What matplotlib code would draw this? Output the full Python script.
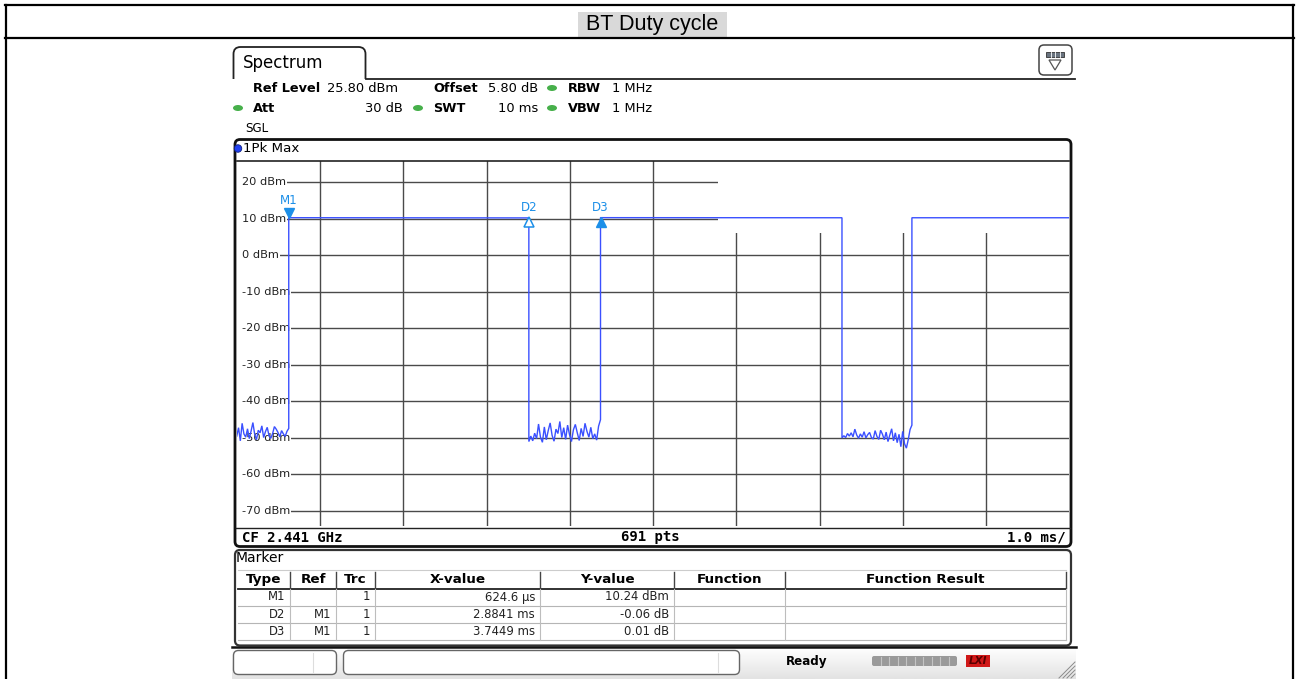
import numpy as np
import matplotlib
matplotlib.use('Agg')
import matplotlib.pyplot as plt
from matplotlib.patches import FancyBboxPatch, Rectangle, Ellipse, Polygon
from matplotlib.transforms import offset_copy

W, H = 1298, 679

# ---------------- data ----------------
title = 'BT Duty cycle'
ref_level = 25.80          # dBm (top of grid)
y_span = 100.0             # dB over the grid
sweep_ms = 10.0            # 1.0 ms/div
y_ticks = [20, 10, 0, -10, -20, -30, -40, -50, -60, -70]
y_tick_labels = ['20 dBm', '10 dBm', '0 dBm', '-10 dBm', '-20 dBm', '-30 dBm',
                 '-40 dBm', '-50 dBm', '-60 dBm', '-70 dBm']
x_ticks = [1, 2, 3, 4, 5, 6, 7, 8, 9]

# switching instants of the burst trace (ms)
edges_ms = [0.0, 0.6246, 3.5087, 4.3695, 7.27, 8.11, 10.0]
# burst (on) levels, start/end of each on-segment (dBm)
high_1 = [10.24, 10.18]
high_2 = [10.25, 10.22]
high_3 = [10.22, 10.22]
# noise floor readings of the three off-segments (dBm)
noise_1 = [-49.5, -47.2, -50.8, -46.0, -48.9, -49.8, -47.5, -50.2, -48.1, -45.8,
           -49.0, -50.5, -47.9, -48.6, -46.7, -49.9, -48.3, -47.1, -49.4, -50.1,
           -48.8, -46.9, -47.6, -48.5, -49.7, -48.0, -48.9, -49.6, -48.2, -47.4]
noise_2 = [-51.0, -49.5, -50.8, -48.7, -50.2, -46.2, -49.8, -51.2, -47.0, -50.5,
           -48.0, -45.9, -49.3, -50.9, -47.6, -48.8, -45.5, -49.9, -47.2, -50.4,
           -46.5, -49.1, -51.0, -47.8, -46.3, -48.6, -50.7, -47.4, -49.6, -46.0,
           -48.2, -49.8, -47.1, -50.2, -48.9, -50.6, -46.8, -45.0]
noise_3 = [-50.0, -49.4, -49.9, -48.8, -49.5, -48.6, -49.7, -47.6, -49.2, -50.1,
           -48.9, -49.8, -48.3, -50.0, -49.1, -48.5, -49.9, -50.3, -48.0, -49.6,
           -50.4, -47.9, -49.0, -50.5, -48.4, -51.0, -49.2, -47.5, -50.8, -48.6,
           -51.3, -49.0, -52.4, -48.2, -51.6, -52.8, -50.5, -47.7, -46.5]

# markers
marker_names = ['M1', 'D2', 'D3']
marker_x_ms = [0.6246, 0.6246 + 2.8841, 0.6246 + 3.7449]
marker_y_dbm = [10.24, 10.18, 10.25]

# marker info box (top right of the grid)
info_rows = [('D3[1]', '0.01 dB', '3.7449 ms'), ('M1[1]', '10.24 dBm', '624.6 µs')]

# marker table
table_headers = ['Type', 'Ref', 'Trc', 'X-value', 'Y-value', 'Function', 'Function Result']
table_type = ['M1', 'D2', 'D3']
table_ref = ['', 'M1', 'M1']
table_trc = ['1', '1', '1']
table_x = ['624.6 µs', '2.8841 ms', '3.7449 ms']
table_y = ['10.24 dBm', '-0.06 dB', '0.01 dB']

# instrument settings
row1 = [('Ref Level', '25.80 dBm'), ('Offset', '5.80 dB'), ('RBW', '1 MHz')]
row2 = [('Att', '30 dB'), ('SWT', '10 ms'), ('VBW', '1 MHz')]
cf_text, pts_text, div_text = 'CF 2.441 GHz', '691 pts', '1.0 ms/'

# ---------------- figure ----------------
fig = plt.figure(figsize=(W / 100, H / 100), dpi=100)
fig.patch.set_facecolor('white')
bg = fig.add_axes([0, 0, 1, 1])
bg.set_xlim(0, W)
bg.set_ylim(H, 0)
bg.axis('off')

SANS = 'DejaVu Sans'
MONO = 'DejaVu Sans Mono'
BLUE_TXT = '#1f95e6'

# outer document table
bg.plot([5, 1294], [5, 5], color='black', lw=1.6)
bg.plot([5, 1294], [38, 38], color='black', lw=1.6)
bg.plot([6, 6], [5, H], color='black', lw=1.6)
bg.plot([1293, 1293], [5, H], color='black', lw=1.6)
bg.add_patch(Rectangle((578, 12), 149, 25, fc='#d9d9d9', ec='none'))
bg.text(652, 24.5, title, ha='center', va='center', fontsize=15.5,
        family='Liberation Sans', color='black')

# tab "Spectrum"
bg.add_patch(FancyBboxPatch((233.5, 47), 132, 40, boxstyle='round,pad=0,rounding_size=7',
                            fc='white', ec='#222222', lw=1.3, zorder=2))
bg.add_patch(Rectangle((232, 79), 136, 12, fc='white', ec='none', zorder=3))
bg.plot([365.5, 1075], [78.5, 78.5], color='#222222', lw=1.3, zorder=3)
bg.text(243, 63, 'Spectrum', ha='left', va='center', fontsize=12, family=SANS, zorder=4)

# icon top right
bg.add_patch(FancyBboxPatch((1039, 45), 33, 30, boxstyle='round,pad=0,rounding_size=5',
                            fc='white', ec='#444444', lw=1.1))
bg.add_patch(Rectangle((1046, 52), 18, 5, fc='#6a7480', ec='#333333', lw=0.6))
for xx in [1050.5, 1055, 1059.5]:
    bg.plot([xx, xx], [52, 57], color='white', lw=0.6)
bg.add_patch(Polygon([[1049, 60], [1061, 60], [1055, 70]], closed=True, fc='white',
                     ec='#555555', lw=0.9))

# settings rows
GREEN = '#47b04b'
def gdot(x, y):
    bg.add_patch(Ellipse((x, y), 10, 6, fc=GREEN, ec='none'))

fs_b = 9.3
fs_r = 9.4
bg.text(253, 88, row1[0][0], fontsize=fs_b, fontweight='bold', va='center', family=SANS)
bg.text(327, 88, row1[0][1], fontsize=fs_r, va='center', family=SANS)
bg.text(433, 88, row1[1][0], fontsize=fs_b, fontweight='bold', va='center', family=SANS)
bg.text(488, 88, row1[1][1], fontsize=fs_r, va='center', family=SANS)
gdot(552, 88)
bg.text(568, 88, row1[2][0], fontsize=fs_b, fontweight='bold', va='center', family=SANS)
bg.text(612, 88, row1[2][1], fontsize=fs_r, va='center', family=SANS)

gdot(238, 108)
bg.text(253, 108, row2[0][0], fontsize=fs_b, fontweight='bold', va='center', family=SANS)
bg.text(403, 108, row2[0][1], fontsize=fs_r, va='center', ha='right', family=SANS)
gdot(418, 108)
bg.text(433, 108, row2[1][0], fontsize=fs_b, fontweight='bold', va='center', family=SANS)
bg.text(538, 108, row2[1][1], fontsize=fs_r, va='center', ha='right', family=SANS)
gdot(552, 108)
bg.text(568, 108, row2[2][0], fontsize=fs_b, fontweight='bold', va='center', family=SANS)
bg.text(612, 108, row2[2][1], fontsize=fs_r, va='center', family=SANS)
bg.text(245, 128, 'SGL', fontsize=8.6, va='center', family=SANS)

# trace window frame
bg.add_patch(FancyBboxPatch((235, 139.5), 836, 407, boxstyle='round,pad=0,rounding_size=5',
                            fc='white', ec='#111111', lw=2.0, zorder=1))
bg.add_patch(Ellipse((238, 148.5), 7.5, 7.5, fc='#2040f0', ec='#102080', lw=0.6, zorder=2))
bg.text(243, 148.5, '1Pk Max', fontsize=9.6, va='center', family=SANS, zorder=2)
bg.plot([236, 1070], [527.5, 527.5], color='#222222', lw=1.0, zorder=2)
bg.text(242, 537.5, cf_text, fontsize=10.1, fontweight='bold', family=MONO, va='center', zorder=2)
bg.text(650, 537.5, pts_text, fontsize=10.1, fontweight='bold', family=MONO, va='center',
        ha='center', zorder=2)
bg.text(1066, 537.5, div_text, fontsize=10.1, fontweight='bold', family=MONO, va='center',
        ha='right', zorder=2)

# marker table
bg.add_patch(FancyBboxPatch((235, 550), 836, 95.5, boxstyle='round,pad=0,rounding_size=5',
                            fc='white', ec='#333333', lw=1.6, zorder=1))
bg.text(236, 558.5, 'Marker', fontsize=10, va='center', family=SANS, zorder=2)
col_edges = [238, 290, 336, 375, 540, 674, 785, 1066]
bg.plot([238, 1066], [569.5, 569.5], color='#cccccc', lw=0.8, zorder=2)
bg.plot([238, 1066], [588.5, 588.5], color='#222222', lw=1.3, zorder=2)
for yy in [605.5, 622.5, 640]:
    bg.plot([238, 1066], [yy, yy], color='#b5b5b5', lw=0.8, zorder=2)
for i, xe in enumerate(col_edges[1:]):
    bg.plot([xe, xe], [572, 588], color='#444444', lw=1.0, zorder=2)
    bg.plot([xe, xe], [589, 640], color='#bdbdbd', lw=0.8, zorder=2)
for i, h in enumerate(table_headers):
    cx = (col_edges[i] + col_edges[i + 1]) / 2
    bg.text(cx, 579.5, h, ha='center', va='center', fontsize=9.7, fontweight='bold',
            family=SANS, zorder=3)
row_y = [597, 614, 631.5]
for r in range(3):
    for ci, txt in zip([1, 2, 3, 4, 5],
                       [table_type[r], table_ref[r], table_trc[r], table_x[r], table_y[r]]):
        bg.text(col_edges[ci] - 5, row_y[r], txt, ha='right', va='center', fontsize=8.4,
                family=SANS, color='#222222', zorder=3)

# status bar
grad = np.linspace(0, 1, 30).reshape(-1, 1)
bg.imshow(grad, extent=(232, 1076, 679, 647), cmap=matplotlib.colors.LinearSegmentedColormap
          .from_list('g', ['#ffffff', '#e3e3e3']), aspect='auto', zorder=0)
bg.plot([232, 1076], [647, 647], color='#111111', lw=1.8, zorder=1)
bg.add_patch(FancyBboxPatch((233.5, 650.5), 103, 24, boxstyle='round,pad=0,rounding_size=5',
                            fc='white', ec='#666666', lw=1.0, zorder=2))
bg.plot([313, 313], [653, 672], color='#dddddd', lw=0.8, zorder=3)
bg.add_patch(FancyBboxPatch((343.5, 650.5), 396, 24, boxstyle='round,pad=0,rounding_size=5',
                            fc='white', ec='#666666', lw=1.0, zorder=2))
bg.plot([718, 718], [653, 672], color='#dddddd', lw=0.8, zorder=3)
bg.text(786, 661, 'Ready', fontsize=8.6, fontweight='bold', va='center', family=SANS, zorder=3)
bg.add_patch(FancyBboxPatch((872, 656), 85, 10, boxstyle='round,pad=0,rounding_size=2',
                            fc='#9a9a9a', ec='none', zorder=3))
for k in range(1, 10):
    xx = 872 + k * 8.5
    bg.plot([xx, xx], [657, 665], color='#c4c4c4', lw=0.8, zorder=4)
bg.add_patch(Rectangle((966, 655), 24, 12, fc='#d01818', ec='none', zorder=3))
bg.text(978, 661, 'LXI', fontsize=7.5, fontweight='bold', style='italic', color='#5a0000',
        ha='center', va='center', family=SANS, zorder=4)
for k in range(4):
    o = k * 4
    bg.plot([1075, 1059 + o], [662 + o, 678], color='#8a8a8a', lw=0.7, zorder=3)

# ---------------- spectrum grid ----------------
x0, x1 = 236.75, 1069.25
ytop = 182 - (ref_level - 20) * 3.656
ybot = ytop + y_span * 3.656
ax = fig.add_axes([x0 / W, 1 - ybot / H, (x1 - x0) / W, (ybot - ytop) / H])
ax.set_xlim(0, sweep_ms)
ax.set_ylim(ref_level - y_span, ref_level)
ax.set_facecolor('none')
for s in ax.spines.values():
    s.set_visible(False)
ax.set_xticks([])
ax.set_yticks([])

GRID = '#4a4a4a'
for xv in x_ticks:
    ax.axvline(xv, color=GRID, lw=1.0, zorder=1)
for yv in y_ticks:
    ax.axhline(yv, color=GRID, lw=1.0, zorder=1)

ms_per_px = sweep_ms / (x1 - x0)
db_per_px = 1 / 3.656
# white strip at the left edge where the level labels sit
ax.add_patch(Rectangle((0, ref_level - y_span), (242 - x0) * ms_per_px, y_span,
                       fc='white', ec='none', zorder=2))
# white marker info box covering the grid
ax.add_patch(Rectangle((5.78, ref_level - (233 - ytop) * db_per_px), sweep_ms - 5.78,
                       (233 - ytop) * db_per_px, fc='white', ec='none', zorder=2))
ax.axhline(ref_level, color='#222222', lw=1.2, zorder=3, clip_on=False)

# y labels (white background hides the grid behind them)
lab_x = (242 - x0) * ms_per_px
for yv, lab in zip(y_ticks, y_tick_labels):
    ax.text(lab_x, yv, lab, ha='left', va='center', fontsize=8.2, family=SANS, color='#222222',
            zorder=2.5, bbox=dict(fc='white', ec='none', pad=0.6))

# trace
t = []
v = []
t += list(np.linspace(edges_ms[0], edges_ms[1], len(noise_1))); v += noise_1
t += [edges_ms[1], edges_ms[2]]; v += high_1
t += list(np.linspace(edges_ms[2], edges_ms[3], len(noise_2))); v += noise_2
t += [edges_ms[3], edges_ms[4]]; v += high_2
t += list(np.linspace(edges_ms[4], edges_ms[5], len(noise_3))); v += noise_3
t += [edges_ms[5], edges_ms[6]]; v += high_3
ax.plot(t, v, color='#3a50ff', lw=1.0, zorder=4, solid_joinstyle='miter')

# markers
MK = '#1c8fe8'
up_off = offset_copy(ax.transData, fig=fig, x=0, y=4.5, units='dots')
dn_off = offset_copy(ax.transData, fig=fig, x=0, y=-4.5, units='dots')
ax.plot(marker_x_ms[0], marker_y_dbm[0], marker='v', ms=6.5, color=MK, mec=MK,
        transform=up_off, zorder=5)
ax.plot(marker_x_ms[1], marker_y_dbm[1], marker='^', ms=6.5, mfc='white', mec=MK, mew=1.1,
        transform=dn_off, zorder=5)
ax.plot(marker_x_ms[2], marker_y_dbm[2], marker='^', ms=6.5, color=MK, mec=MK,
        transform=dn_off, zorder=5)
lab_offsets = [17, 10.5, 10.5]
for name, mx, my, lo in zip(marker_names, marker_x_ms, marker_y_dbm, lab_offsets):
    tr = offset_copy(ax.transData, fig=fig, x=0, y=lo, units='dots')
    ax.text(mx, my, name, transform=tr, ha='center', va='center', fontsize=8.6,
            family=SANS, color=MK, zorder=5)

# marker info texts (figure pixel positions)
info_y = [(170, 187), (206, 225)]
for (name, val1, val2), (ya, yb) in zip(info_rows, info_y):
    bg.text(721, ya, name, fontsize=9.8, fontweight='bold', family=MONO, color=BLUE_TXT,
            va='center', zorder=6)
    bg.text(1068, ya, val1, fontsize=9.8, fontweight='bold', family=MONO, color=BLUE_TXT,
            va='center', ha='right', zorder=6)
    bg.text(1068, yb, val2, fontsize=9.8, fontweight='bold', family=MONO, color=BLUE_TXT,
            va='center', ha='right', zorder=6)

fig.savefig('out.png', dpi=100, facecolor='white')
